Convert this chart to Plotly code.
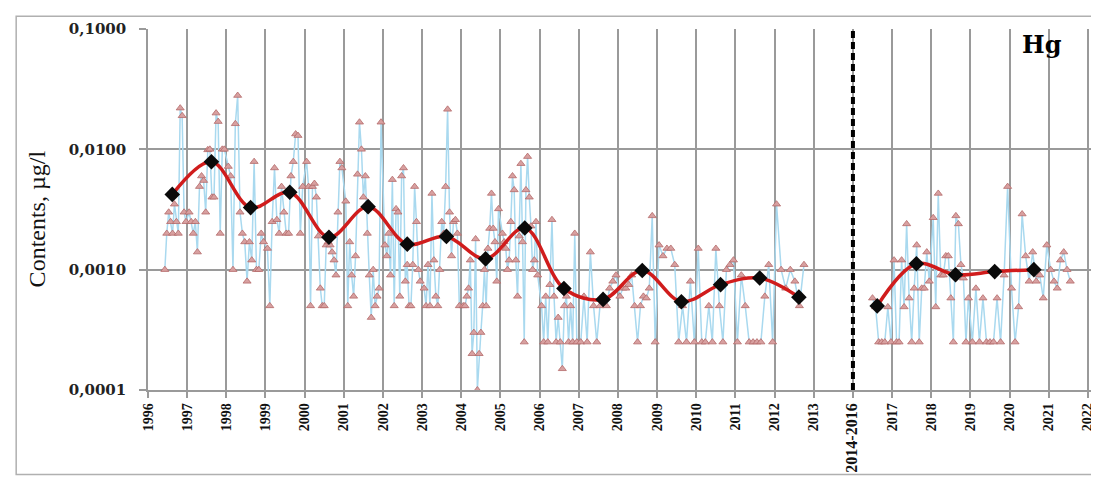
import plotly.graph_objects as go

# ---------------- data ----------------
tick_labels = ["1996", "1997", "1998", "1999", "2000", "2001", "2002", "2003", "2004",
               "2005", "2006", "2007", "2008", "2009", "2010", "2011", "2012", "2013",
               "2014-2016", "2017", "2018", "2019", "2020", "2021", "2022"]

# individual measurements (µg/l), grouped by the axis slot they fall in
v1996 = [0.001, 0.002, 0.003, 0.0025, 0.002, 0.0035, 0.0025, 0.002, 0.022, 0.019, 0.003, 0.0025]
v1997 = [0.003, 0.0025, 0.002, 0.0025, 0.0014, 0.0049, 0.006, 0.0055, 0.003, 0.0099, 0.01,
         0.004, 0.004, 0.02, 0.017, 0.002, 0.01, 0.01]
v1998 = [0.0072, 0.006, 0.001, 0.0163, 0.028, 0.003, 0.002, 0.0017, 0.0008, 0.0017, 0.0012,
         0.0079, 0.001, 0.001, 0.002, 0.0017]
v1999 = [0.0015, 0.0005, 0.0025, 0.007, 0.0026, 0.002, 0.0049, 0.003, 0.002, 0.002, 0.006,
         0.0079, 0.0134, 0.013, 0.002, 0.0049]
v2000 = [0.0079, 0.0049, 0.0005, 0.0049, 0.0052, 0.004, 0.0019, 0.0007, 0.0005, 0.0005, 0.0016,
         0.0017, 0.0016, 0.0014, 0.0012, 0.0009, 0.003, 0.0079, 0.007]
v2001 = [0.0037, 0.0005, 0.0017, 0.0009, 0.0006, 0.0013, 0.0062, 0.0168, 0.01, 0.004, 0.006,
         0.002, 0.0009, 0.0004, 0.001, 0.0005, 0.0006, 0.0007, 0.0168]
v2002 = [0.0016, 0.0013, 0.002, 0.0009, 0.0056, 0.0005, 0.0032, 0.003, 0.0006, 0.006, 0.007,
         0.0008, 0.0011, 0.0005, 0.0005, 0.0011, 0.0049, 0.0025, 0.001, 0.0008]
v2003 = [0.0007, 0.0005, 0.0011, 0.0005, 0.0043, 0.0012, 0.0006, 0.0005, 0.001, 0.0025, 0.002,
         0.0049, 0.0215, 0.003, 0.0013, 0.0025, 0.0026, 0.002, 0.0005]
v2004 = [0.0005, 0.0005, 0.0006, 0.0007, 0.0012, 0.0002, 0.0003, 0.0018, 0.0001, 0.0002, 0.0003,
         0.0005, 0.001, 0.0005, 0.0015, 0.0022, 0.0043, 0.0022, 0.0017, 0.0008, 0.0032]
v2005 = [0.002, 0.0017, 0.0015, 0.001, 0.0012, 0.0025, 0.006, 0.0046, 0.0012, 0.0006, 0.0019,
         0.0076, 0.0017, 0.00025, 0.0046, 0.0087, 0.004, 0.0023, 0.001, 0.0012, 0.0025, 0.0009]
v2006 = [0.0005, 0.00025, 0.0006, 0.00025, 0.00075, 0.0026, 0.0006, 0.00025, 0.0004, 0.00025,
         0.00015, 0.0005, 0.0006, 0.00025, 0.0005, 0.00025, 0.002, 0.00025]
v2007 = [0.00025, 0.0006, 0.00025, 0.0014, 0.0005, 0.00025, 0.0005, 0.0006, 0.0005, 0.0007,
         0.0008, 0.0009]
v2008 = [0.0006, 0.0007, 0.0007, 0.00075, 0.0009, 0.0005, 0.00025, 0.0005, 0.0006, 0.00058,
         0.0007, 0.0028, 0.00025]
v2009 = [0.0016, 0.0013, 0.0015, 0.0015, 0.0011, 0.00025, 0.0005, 0.00025, 0.0008, 0.00025]
v2010 = [0.0015, 0.00025, 0.00025, 0.0005, 0.00025, 0.0015, 0.0005, 0.00025, 0.001, 0.0011, 0.0012]
v2011 = [0.00025, 0.0009, 0.0005, 0.00025, 0.00025, 0.00025, 0.00025, 0.0006, 0.0011, 0.00025]
v2012 = [0.0035, 0.001, 0.0007, 0.001, 0.0008, 0.0005, 0.0011]
v2014_2016 = [0.00058, 0.00049, 0.00025, 0.00025, 0.00025, 0.00049, 0.00025]
v2017 = [0.0012, 0.00025, 0.00025, 0.0012, 0.00049, 0.0024, 0.00058, 0.00025, 0.0007, 0.0016,
         0.00025, 0.0007, 0.0007, 0.0014, 0.0008]
v2018 = [0.0027, 0.00049, 0.0043, 0.0009, 0.0009, 0.0013, 0.0013, 0.00058, 0.00025, 0.0028,
         0.0024, 0.0011, 0.00085, 0.00025, 0.00058]
v2019 = [0.00025, 0.0007, 0.00025, 0.00058, 0.00025, 0.00025, 0.00025, 0.00058, 0.00025,
         0.0009, 0.0049]
v2020 = [0.0007, 0.00025, 0.00049, 0.0029, 0.0013, 0.0008, 0.0014, 0.0008, 0.0009, 0.00058, 0.0016]
v2021 = [0.001, 0.0008, 0.0007, 0.0012, 0.0014, 0.001, 0.0008]

pre_groups = [v1996, v1997, v1998, v1999, v2000, v2001, v2002, v2003, v2004, v2005,
              v2006, v2007, v2008, v2009, v2010, v2011, v2012]
pre_slots = list(range(0, 17))
post_groups = [v2014_2016, v2017, v2018, v2019, v2020, v2021]
post_slots = [18, 19, 20, 21, 22, 23]

# part of each slot covered by sampling (fraction of the slot)
pre_cover = [(0.43, 0.97)] + [(0.05, 0.95)] * 15 + [(0.05, 0.75)]
post_cover = [(0.5, 0.97)] + [(0.05, 0.95)] * 4 + [(0.05, 0.55)]

# annual means (black diamonds)
mean_pre = [0.00422, 0.00789, 0.00328, 0.00440, 0.00186, 0.00334, 0.00163, 0.00189, 0.00123,
            0.00222, 0.000697, 0.000566, 0.000984, 0.000542, 0.000751, 0.000852, 0.000591]
mean_pre_slots = list(range(0, 17))
mean_post = [0.000500, 0.00112, 0.000908, 0.000964, 0.00100]
mean_post_slots = [18, 19, 20, 21, 22]
mean_offset = 0.62
break_slot = 18

# ---------------- build ----------------
def spread(groups, slots, cover):
    xs, ys = [], []
    for vals, s, (a, b) in zip(groups, slots, cover):
        n = len(vals)
        for i, v in enumerate(vals):
            xs.append(s + a + (b - a) * i / (n - 1))
            ys.append(v)
    return xs, ys

xa, ya = spread(pre_groups, pre_slots, pre_cover)
xb, yb = spread(post_groups, post_slots, post_cover)
x_meas = xa + [None] + xb
y_meas = ya + [None] + yb

x_mean = [s + mean_offset for s in mean_pre_slots] + [None] + [s + mean_offset for s in mean_post_slots]
y_mean = mean_pre + [None] + mean_post

fig = go.Figure()
fig.add_trace(go.Scatter(
    x=x_meas, y=y_meas, mode="lines+markers",
    line=dict(color="#a9d9ef", width=1.5),
    marker=dict(symbol="triangle-up", size=7, color="#d8a0a0",
                line=dict(color="#b46a6a", width=0.8)),
    connectgaps=False, showlegend=False, hoverinfo="skip"))
fig.add_trace(go.Scatter(
    x=x_mean, y=y_mean, mode="lines",
    line=dict(color="#d01c1c", width=3.5, shape="spline", smoothing=1.0),
    connectgaps=False, showlegend=False))
fig.add_trace(go.Scatter(
    x=x_mean, y=y_mean, mode="markers",
    marker=dict(symbol="diamond", size=12, color="#0a0a0a"),
    showlegend=False))

ticktext = [('<span style="font-size:16px">%s</span>' % t) if t == "2014-2016" else t
            for t in tick_labels]

fig.update_xaxes(
    range=[0, 24.13], tickmode="array", tickvals=list(range(len(tick_labels))),
    ticktext=ticktext, tickangle=-90,
    tickfont=dict(family="Liberation Serif", size=14, color="#111", weight="bold"),
    showgrid=True, gridcolor="#9a9a9a", gridwidth=1.5,
    ticks="outside", ticklen=6, tickcolor="#9a9a9a", tickwidth=1.5,
    showline=True, linecolor="#9a9a9a", linewidth=1.5, zeroline=False)
fig.update_yaxes(
    type="log", range=[-4, -1], tickmode="array",
    tickvals=[0.0001, 0.001, 0.01, 0.1], ticktext=["0,0001", "0,0010", "0,0100", "0,1000"],
    tickfont=dict(family="DejaVu Serif", size=15, color="#222", weight="bold"),
    ticklabelstandoff=10,
    showgrid=True, gridcolor="#9a9a9a", gridwidth=1.5,
    ticks="outside", ticklen=7, tickcolor="#9a9a9a", tickwidth=1.5,
    showline=True, linecolor="#9a9a9a", linewidth=1.5, zeroline=False)

# y-axis title
fig.add_annotation(text="Contents, µg/l", xref="paper", yref="paper", x=-0.118, y=0.474,
                   textangle=-90, showarrow=False, xanchor="center", yanchor="middle",
                   font=dict(family="Liberation Serif", size=24, color="#111"))

fig.add_shape(type="line", xref="x", yref="paper", x0=break_slot, x1=break_slot, y0=0, y1=1,
              line=dict(color="#000", width=4, dash="7px,4px"))
fig.add_shape(type="rect", xref="paper", yref="paper",
              x0=-0.1395, x1=1.0127, y0=-0.2343, y1=1.0354,
              line=dict(color="#b0b0b0", width=1.5))
fig.add_annotation(text="<b>Hg</b>", xref="paper", yref="paper", x=0.946, y=0.958,
                   showarrow=False, xanchor="center", yanchor="middle",
                   font=dict(family="DejaVu Serif", size=24, color="#000"))

fig.update_layout(
    width=1099, height=477, margin=dict(l=140, r=13, t=20, b=90),
    plot_bgcolor="white", paper_bgcolor="white")

fig.write_html("out.html")
